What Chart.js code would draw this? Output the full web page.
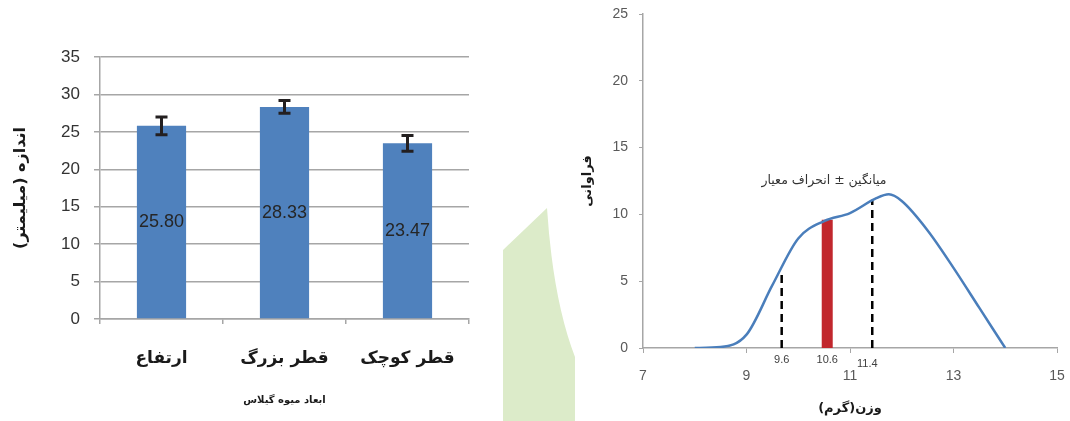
<!DOCTYPE html>
<html>
<head>
<meta charset="utf-8">
<script src="https://cdn.jsdelivr.net/npm/chart.js@4.4.0/dist/chart.umd.min.js"></script>
<style>
    body { margin: 0; background: #fff; width: 1070px; height: 421px; position: relative; overflow: hidden; }
    #fundo { position: absolute; left: 0; top: 0; }
    #graficoBarras { position: absolute; left: 0; top: 0; }
    #graficoCurva { position: absolute; left: 560px; top: 0; }
</style>
</head>
<body>
<svg id="fundo" width="1070" height="421"><path d="M503,250 L547,208 Q553,300 575,357 L575,421 L503,421 Z" fill="#dcebc9"/></svg>
<canvas id="graficoBarras" width="500" height="421" dir="rtl"></canvas>
<canvas id="graficoCurva" width="510" height="421" dir="rtl"></canvas>
<script>
// Dados do gráfico de barras (dimensões do fruto)
const categorias = ['ارتفاع', 'قطر بزرگ', 'قطر کوچک'];
const medias = [25.80, 28.33, 23.47];
const erros = [1.2, 0.85, 1.05];

// Dados da curva de frequência do peso
const pesoX = [8, 8.5, 9, 9.5, 10, 10.5, 11, 11.5, 11.75, 12, 12.5, 13, 13.5, 14];
const frequencia = [0, 0.07, 1.0, 4.7, 8.2, 9.5, 10.1, 11.2, 11.5, 11.0, 8.8, 6.0, 3.0, 0];

// Média ± desvio padrão
const marcasX = [9.68, 10.56, 11.43];
const marcasTopo = [5.8, 9.6, 11.1];
const marcasRotulo = ['9.6', '10.6', '11.4'];

const FONTE_NUM = '"Liberation Sans", Arial, sans-serif';
const FONTE_FA = '"DejaVu Sans", sans-serif';

Chart.defaults.font.family = FONTE_NUM;
Chart.defaults.animation = false;

const barrasDeErro = {
    id: 'barrasDeErro',
    afterDatasetsDraw(chart) {
        const { ctx, scales: { y } } = chart;
        const meta = chart.getDatasetMeta(0);
        ctx.save();
        meta.data.forEach((barra, i) => {
            const topo = y.getPixelForValue(medias[i] + erros[i]);
            const base = y.getPixelForValue(medias[i] - erros[i]);
            ctx.strokeStyle = '#231f20';
            ctx.lineWidth = 3;
            ctx.beginPath();
            ctx.moveTo(barra.x, topo); ctx.lineTo(barra.x, base);
            ctx.moveTo(barra.x - 6, topo); ctx.lineTo(barra.x + 6, topo);
            ctx.moveTo(barra.x - 6, base); ctx.lineTo(barra.x + 6, base);
            ctx.stroke();

            // rótulo com o valor no meio da barra
            ctx.fillStyle = '#262626';
            ctx.font = '18px ' + FONTE_NUM;
            ctx.textAlign = 'center';
            ctx.textBaseline = 'middle';
            ctx.fillText(medias[i].toFixed(2), barra.x, (barra.y + barra.base) / 2);
        });
        ctx.restore();
    }
};

new Chart(document.getElementById('graficoBarras'), {
    type: 'bar',
    data: {
        labels: categorias,
        datasets: [{
            data: medias,
            backgroundColor: '#4f81bd',
            barPercentage: 0.4,
            categoryPercentage: 1
        }]
    },
    options: {
        responsive: false,
        layout: { padding: { top: 57, right: 31, left: 0, bottom: 0 } },
        plugins: { legend: { display: false }, tooltip: { enabled: false } },
        scales: {
            y: {
                min: 0, max: 35,
                ticks: { stepSize: 5, padding: 14, color: '#333', font: { size: 17 } },
                grid: { color: '#a6a6a6', lineWidth: 1.5, tickLength: 6 },
                border: { color: '#a6a6a6', width: 1.5 },
                title: {
                    display: true, text: 'اندازه (میلیمتر)', color: '#1a1a1a',
                    font: { family: FONTE_FA, size: 16, weight: 'bold' },
                    padding: { top: 11, bottom: 0 }
                },
                afterFit(escala) { escala.width = 100; }
            },
            x: {
                ticks: { padding: 24, color: '#1a1a1a', font: { family: FONTE_FA, size: 17, weight: 'bold' } },
                grid: { drawOnChartArea: false, color: '#a6a6a6', lineWidth: 1.5, tickLength: 5 },
                border: { color: '#a6a6a6', width: 1.5 },
                title: {
                    display: true, text: 'ابعاد میوه گیلاس', color: '#1a1a1a',
                    font: { family: FONTE_FA, size: 10, weight: 'bold' },
                    padding: { top: 0, bottom: 15 }
                },
                afterFit(escala) { escala.height = 102; }
            }
        }
    },
    plugins: [barrasDeErro]
});

const rotulosCurva = {
    id: 'rotulosCurva',
    afterDatasetsDraw(chart) {
        const { ctx, scales: { x, y }, chartArea } = chart;
        ctx.save();
        ctx.fillStyle = '#404040';
        ctx.font = '11px ' + FONTE_NUM;
        ctx.textAlign = 'center';
        ctx.textBaseline = 'middle';
        marcasRotulo.forEach((txt, i) => {
            const desloc = i === 2 ? 16 : 12;
            ctx.fillText(txt, x.getPixelForValue(marcasX[i]) - (i === 2 ? 5 : 0), chartArea.bottom + desloc);
        });
        ctx.fillStyle = '#333';
        ctx.font = '12.5px ' + FONTE_FA;
        ctx.textAlign = 'left';
        ctx.fillText('میانگین ± انحراف معیار', x.getPixelForValue(9.29), y.getPixelForValue(12.55));
        ctx.restore();
    }
};

function linhaVertical(i, cor, largura, tracejado) {
    return {
        data: [{ x: marcasX[i], y: 0 }, { x: marcasX[i], y: marcasTopo[i] }],
        borderColor: cor,
        borderWidth: largura,
        borderDash: tracejado,
        borderCapStyle: 'butt',
        pointRadius: 0
    };
}

// zera o recuo automático dos rótulos para a área do gráfico seguir o padding
function semRecuo(escala) {
    escala.paddingLeft = 0;
    escala.paddingRight = 0;
    escala.paddingTop = 0;
    escala.paddingBottom = 0;
}

new Chart(document.getElementById('graficoCurva'), {
    type: 'line',
    data: {
        datasets: [
            {
                data: pesoX.map((v, i) => ({ x: v, y: frequencia[i] })),
                borderColor: '#4a7ebb',
                borderWidth: 2.5,
                pointRadius: 0,
                cubicInterpolationMode: 'monotone'
            },
            linhaVertical(0, '#000', 2.5, [8, 5]),
            linhaVertical(1, '#c1272d', 11, []),
            linhaVertical(2, '#000', 2.5, [8, 5])
        ]
    },
    options: {
        responsive: false,
        layout: { padding: { top: 14, right: 13, left: 0, bottom: 0 } },
        plugins: { legend: { display: false }, tooltip: { enabled: false } },
        scales: {
            x: {
                type: 'linear', min: 7, max: 15,
                ticks: { stepSize: 2, padding: 15, color: '#595959', font: { size: 14 } },
                grid: { drawOnChartArea: false, color: '#a6a6a6', tickLength: 5 },
                border: { color: '#a6a6a6', width: 1.5 },
                title: {
                    display: true, text: 'وزن(گرم)', color: '#1a1a1a',
                    font: { family: FONTE_FA, size: 13, weight: 'bold' },
                    padding: { top: 0, bottom: 5 }
                },
                afterFit(escala) { escala.height = 73; semRecuo(escala); }
            },
            y: {
                min: 0, max: 25,
                ticks: { stepSize: 5, padding: 11, color: '#595959', font: { size: 14 } },
                grid: { drawOnChartArea: false, color: '#a6a6a6', tickLength: 4 },
                border: { color: '#a6a6a6', width: 1.5 },
                title: {
                    display: true, text: 'فراوانی', color: '#1a1a1a',
                    font: { family: FONTE_FA, size: 13, weight: 'bold' },
                    padding: { top: 20, bottom: 0 }
                },
                afterFit(escala) { escala.width = 83; semRecuo(escala); }
            }
        }
    },
    plugins: [rotulosCurva]
});
</script>
</body>
</html>
